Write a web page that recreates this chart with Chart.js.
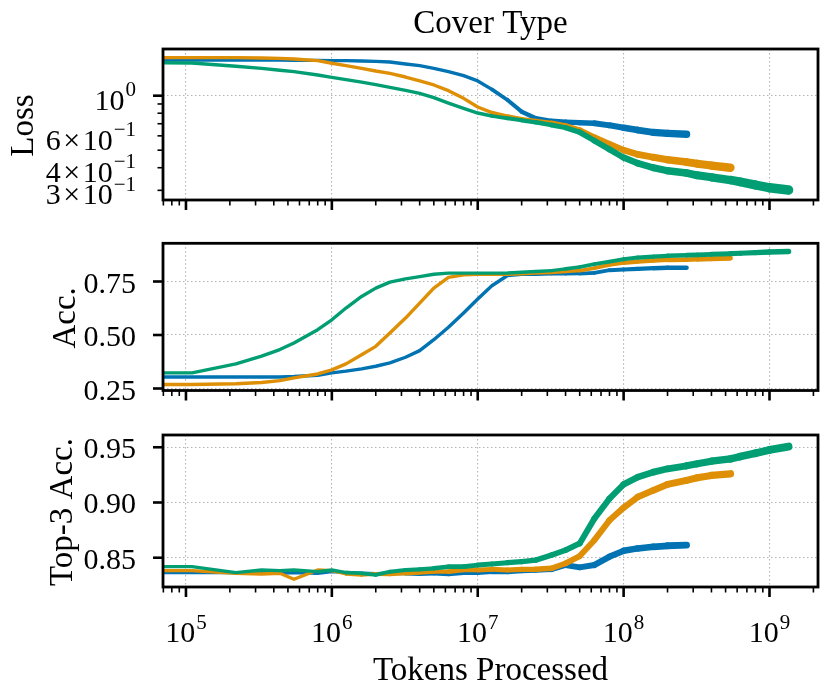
<!DOCTYPE html>
<html>
<head>
<meta charset="utf-8">
<title>Cover Type</title>
<script src="https://cdn.jsdelivr.net/npm/chart.js@4.4.1/dist/chart.umd.min.js"></script>
<style>
  html, body { margin: 0; padding: 0; background: #fff; }
  #wrap { position: relative; width: 829px; height: 696px; }
  #wrap canvas { position: absolute; left: 0; top: 0; }
</style>
</head>
<body>
<div id="wrap">
  <canvas id="lossChart" width="829" height="696"></canvas>
  <canvas id="accChart" width="829" height="696"></canvas>
  <canvas id="top3Chart" width="829" height="696"></canvas>
</div>
<script>
// ---- data ----
const tokens = [5.5e4, 1.1e5, 2.2e5, 3.3e5, 4.4e5, 5.5e5, 8e5, 1e6, 1.25e6, 1.6e6,
  2e6, 2.5e6, 3.2e6, 4e6, 5e6, 6.3e6, 8e6, 1e7, 1.25e7, 1.6e7,
  2e7, 2.5e7, 3.2e7, 4e7, 5e7, 6.3e7, 8e7, 1e8, 1.25e8, 1.6e8,
  2e8, 2.7e8, 3.2e8, 4e8, 5.4e8, 6.3e8, 8e8, 1e9, 1.35e9];

const seriesNames = ['Run 1', 'Run 2', 'Run 3'];

const blueLoss = [1.575, 1.575, 1.575, 1.575, 1.572, 1.568, 1.568, 1.562, 1.562, 1.555,
  1.548, 1.535, 1.497, 1.465, 1.416, 1.358, 1.290, 1.206, 1.084, 0.947,
  0.816, 0.750, 0.725, 0.715, 0.709, 0.704, 0.686, 0.665, 0.646, 0.627,
  0.619, 0.612];
const orangeLoss = [1.622, 1.622, 1.622, 1.615, 1.608, 1.595, 1.562, 1.510, 1.465, 1.416,
  1.369, 1.329, 1.268, 1.206, 1.146, 1.066, 0.967, 0.866, 0.806, 0.769,
  0.743, 0.725, 0.707, 0.683, 0.646, 0.589, 0.541, 0.501, 0.474, 0.457,
  0.443, 0.430, 0.421, 0.411, 0.400];
const greenLoss = [1.522, 1.516, 1.453, 1.416, 1.381, 1.358, 1.301, 1.263, 1.226, 1.188,
  1.150, 1.112, 1.070, 1.030, 0.975, 0.910, 0.852, 0.802, 0.772, 0.750,
  0.731, 0.713, 0.689, 0.666, 0.628, 0.564, 0.505, 0.455, 0.423, 0.400,
  0.385, 0.374, 0.363, 0.354, 0.342, 0.334, 0.321, 0.310, 0.301];

const blueAcc = [0.304, 0.304, 0.304, 0.304, 0.304, 0.306, 0.312, 0.323, 0.331, 0.342,
  0.354, 0.370, 0.396, 0.427, 0.478, 0.536, 0.603, 0.668, 0.730, 0.778,
  0.784, 0.784, 0.786, 0.786, 0.787, 0.790, 0.803, 0.806, 0.809, 0.812,
  0.814, 0.814];
const orangeAcc = [0.269, 0.269, 0.272, 0.278, 0.287, 0.300, 0.318, 0.337, 0.365, 0.408,
  0.447, 0.509, 0.579, 0.649, 0.719, 0.769, 0.781, 0.784, 0.784, 0.784,
  0.786, 0.789, 0.792, 0.797, 0.801, 0.812, 0.828, 0.837, 0.843, 0.848,
  0.851, 0.852, 0.854, 0.856, 0.859];
const greenAcc = [0.323, 0.323, 0.365, 0.401, 0.432, 0.463, 0.525, 0.571, 0.626, 0.680,
  0.719, 0.747, 0.762, 0.773, 0.784, 0.789, 0.789, 0.789, 0.789, 0.790,
  0.793, 0.797, 0.801, 0.809, 0.818, 0.831, 0.843, 0.854, 0.862, 0.866,
  0.870, 0.873, 0.874, 0.877, 0.880, 0.882, 0.885, 0.888, 0.890];

const blueTop3 = [0.8365, 0.8365, 0.8365, 0.8359, 0.8359, 0.8365, 0.8359, 0.8374, 0.8365, 0.8359,
  0.8353, 0.8359, 0.8359, 0.8353, 0.8359, 0.8353, 0.8365, 0.8365, 0.8374, 0.8374,
  0.8383, 0.8389, 0.8395, 0.8434, 0.8413, 0.8434, 0.8509, 0.8563, 0.8584, 0.8599,
  0.8608, 0.8614];
const orangeTop3 = [0.8383, 0.8383, 0.8359, 0.8353, 0.8359, 0.8305, 0.8389, 0.8383, 0.8353, 0.8344,
  0.8353, 0.8350, 0.8359, 0.8365, 0.8374, 0.8374, 0.8389, 0.8389, 0.8395, 0.8389,
  0.8395, 0.8395, 0.8404, 0.8449, 0.8515, 0.8659, 0.8839, 0.8953, 0.9050, 0.9110,
  0.9164, 0.9200, 0.9224, 0.9245, 0.9260];
const greenTop3 = [0.8419, 0.8419, 0.8365, 0.8389, 0.8383, 0.8389, 0.8374, 0.8389, 0.8365, 0.8359,
  0.8344, 0.8374, 0.8389, 0.8395, 0.8404, 0.8419, 0.8419, 0.8434, 0.8443, 0.8455,
  0.8464, 0.8479, 0.8524, 0.8569, 0.8629, 0.8854, 0.9035, 0.9164, 0.9230, 0.9275,
  0.9305, 0.9332, 0.9350, 0.9374, 0.9395, 0.9416, 0.9446, 0.9476, 0.9506];

// tick labels
const xTickValues = [1e5, 1e6, 1e7, 1e8, 1e9];
const xTickExponents = ['5', '6', '7', '8', '9'];
const lossTickValues = [1, 0.6, 0.4, 0.3];
const lossTickBases = ['10', '6\u200a×\u200a10', '4\u200a×\u200a10', '3\u200a×\u200a10'];
const lossTickExponents = ['0', '\u22121', '\u22121', '\u22121'];
const lossMinorValues = [0.9, 0.8, 0.7, 0.6, 0.5, 0.4, 0.3];
const accTickValues = [0.25, 0.50, 0.75];
const accTickLabels = ['0.25', '0.50', '0.75'];
const top3TickValues = [0.85, 0.90, 0.95];
const top3TickLabels = ['0.85', '0.90', '0.95'];

// ---- style ----
const COLORS = ['#0173b2', '#de8f05', '#029e73'];
const FONT = '"Liberation Serif", "Times New Roman", Times, serif';
const X_MIN = 6.96e4, X_MAX = 2.15e9;
const FRAME_LEFT = 163, FRAME_RIGHT = 818;
const LINE_W = 3.4;

function drawMath(ctx, base, sup, x, y, align) {
  ctx.font = '30px ' + FONT;
  const wb = ctx.measureText(base).width;
  ctx.font = '21px ' + FONT;
  const ws = sup ? ctx.measureText(sup).width + 1 : 0;
  const w = wb + ws;
  const left = align === 'right' ? x - w : (align === 'center' ? x - w / 2 : x);
  ctx.textAlign = 'left';
  ctx.textBaseline = 'alphabetic';
  ctx.font = '30px ' + FONT;
  ctx.fillText(base, left, y);
  if (sup) {
    ctx.font = '21px ' + FONT;
    ctx.fillText(sup, left + wb + 1, y - 13.5);
  }
}

function line(ctx, x1, y1, x2, y2, w) {
  ctx.lineWidth = w;
  ctx.beginPath();
  ctx.moveTo(x1, y1);
  ctx.lineTo(x2, y2);
  ctx.stroke();
}

// frame, tick marks and all the text of a panel
const axesDecor = {
  id: 'axesDecor',
  afterDatasetsDraw(chart, args, o) {
    const { ctx, chartArea: a, scales: { x, y } } = chart;
    ctx.save();
    ctx.strokeStyle = '#000';
    ctx.fillStyle = '#000';
    ctx.lineCap = 'butt';

    // x ticks (major + minor), bottom only
    for (let k = 4; k <= 9; k++) {
      for (let m = 1; m <= 9; m++) {
        const v = m * Math.pow(10, k);
        if (v < X_MIN || v > X_MAX) continue;
        const px = x.getPixelForValue(v);
        if (m === 1) line(ctx, px, a.bottom, px, a.bottom + 10, 2.6);
        else line(ctx, px, a.bottom, px, a.bottom + 5.5, 1.6);
      }
    }
    // y ticks
    o.yMajor.forEach(v => {
      const py = y.getPixelForValue(v);
      line(ctx, a.left - 10, py, a.left, py, 2.6);
    });
    (o.yMinor || []).forEach(v => {
      const py = y.getPixelForValue(v);
      line(ctx, a.left - 5.5, py, a.left, py, 1.6);
    });

    // frame
    ctx.lineWidth = 2.8;
    ctx.strokeRect(a.left, a.top, a.right - a.left, a.bottom - a.top);

    // y tick labels
    o.yLabels.forEach(lb => {
      const py = y.getPixelForValue(lb.v);
      drawMath(ctx, lb.base, lb.sup, 136, py + (lb.sup ? 14 : 11), 'right');
    });

    // x tick labels
    if (o.xLabels) {
      xTickValues.forEach((v, i) => {
        drawMath(ctx, '10', xTickExponents[i], x.getPixelForValue(v), a.bottom + 55, 'center');
      });
      ctx.font = '33px ' + FONT;
      ctx.textAlign = 'center';
      ctx.fillText('Tokens Processed', (a.left + a.right) / 2, 680);
    }

    // y axis title
    ctx.save();
    ctx.font = '33px ' + FONT;
    ctx.textAlign = 'center';
    ctx.textBaseline = 'alphabetic';
    ctx.translate(o.yTitleX, (a.top + a.bottom) / 2 + 1);
    ctx.rotate(-Math.PI / 2);
    ctx.fillText(o.yTitle, 0, 0);
    ctx.restore();

    if (o.title) {
      ctx.font = '33px ' + FONT;
      ctx.textAlign = 'center';
      ctx.fillText(o.title, (a.left + a.right) / 2, 33);
    }
    ctx.restore();
  }
};

// noisy logs read as a band that widens with training
const bandWidth = (start, slope) => c => {
  const lx = Math.log10(c.p0.parsed.x);
  return LINE_W + Math.max(0, lx - start) * slope;
};

function datasets(series, start, slope) {
  return series.map((vals, i) => ({
    label: seriesNames[i],
    data: vals.map((v, j) => ({ x: tokens[j], y: v })),
    borderColor: COLORS[i],
    backgroundColor: COLORS[i],
    borderWidth: LINE_W,
    borderJoinStyle: 'round',
    borderCapStyle: 'round',
    order: 3 - i,
    pointRadius: 0,
    tension: 0,
    segment: { borderWidth: bandWidth(start, slope) }
  }));
}

function makeChart(id, cfg) {
  return new Chart(document.getElementById(id), {
    type: 'line',
    data: { datasets: datasets(cfg.series, cfg.bandStart, cfg.bandSlope) },
    options: {
      responsive: false,
      animation: false,
      events: [],
      layout: { padding: { left: FRAME_LEFT, right: 829 - FRAME_RIGHT, top: cfg.top, bottom: 696 - cfg.bottom } },
      plugins: {
        legend: { display: false },
        tooltip: { enabled: false },
        axesDecor: cfg.decor
      },
      scales: {
        x: {
          type: 'logarithmic',
          min: X_MIN,
          max: X_MAX,
          afterBuildTicks: s => { s.ticks = xTickValues.map(v => ({ value: v })); },
          afterFit: s => { s.height = 0; },
          ticks: { display: false },
          grid: { color: '#b3b3b3', lineWidth: 1.1, drawTicks: false },
          border: { display: false, dash: [1.5, 2.5] }
        },
        y: {
          type: cfg.yType,
          min: cfg.yMin,
          max: cfg.yMax,
          afterBuildTicks: s => { s.ticks = cfg.yGrid.map(v => ({ value: v })); },
          afterFit: s => { s.width = 0; },
          ticks: { display: false },
          grid: { color: '#b3b3b3', lineWidth: 1.1, drawTicks: false },
          border: { display: false, dash: [1.5, 2.5] }
        }
      }
    },
    plugins: [axesDecor]
  });
}

makeChart('lossChart', {
  series: [blueLoss, orangeLoss, greenLoss],
  bandStart: 7.0, bandSlope: 3.1,
  top: 49, bottom: 200,
  yType: 'logarithmic', yMin: 0.2653, yMax: 1.811,
  yGrid: [1],
  decor: {
    title: 'Cover Type',
    yTitle: 'Loss', yTitleX: 33,
    yMajor: [1], yMinor: lossMinorValues,
    yLabels: lossTickValues.map((v, i) => ({ v, base: lossTickBases[i], sup: lossTickExponents[i] })),
    xLabels: false
  }
});

makeChart('accChart', {
  series: [blueAcc, orangeAcc, greenAcc],
  bandStart: 7.5, bandSlope: 1.4,
  top: 243.3, bottom: 390.5,
  yType: 'linear', yMin: 0.2407, yMax: 0.9285,
  yGrid: accTickValues,
  decor: {
    yTitle: 'Acc.', yTitleX: 75,
    yMajor: accTickValues,
    yLabels: accTickValues.map((v, i) => ({ v, base: accTickLabels[i], sup: '' })),
    xLabels: false
  }
});

makeChart('top3Chart', {
  series: [blueTop3, orangeTop3, greenTop3],
  bandStart: 6.0, bandSlope: 1.5,
  top: 435, bottom: 587,
  yType: 'linear', yMin: 0.8235, yMax: 0.9611,
  yGrid: top3TickValues,
  decor: {
    yTitle: 'Top-3 Acc.', yTitleX: 72,
    yMajor: top3TickValues,
    yLabels: top3TickValues.map((v, i) => ({ v, base: top3TickLabels[i], sup: '' })),
    xLabels: true
  }
});
</script>
</body>
</html>
